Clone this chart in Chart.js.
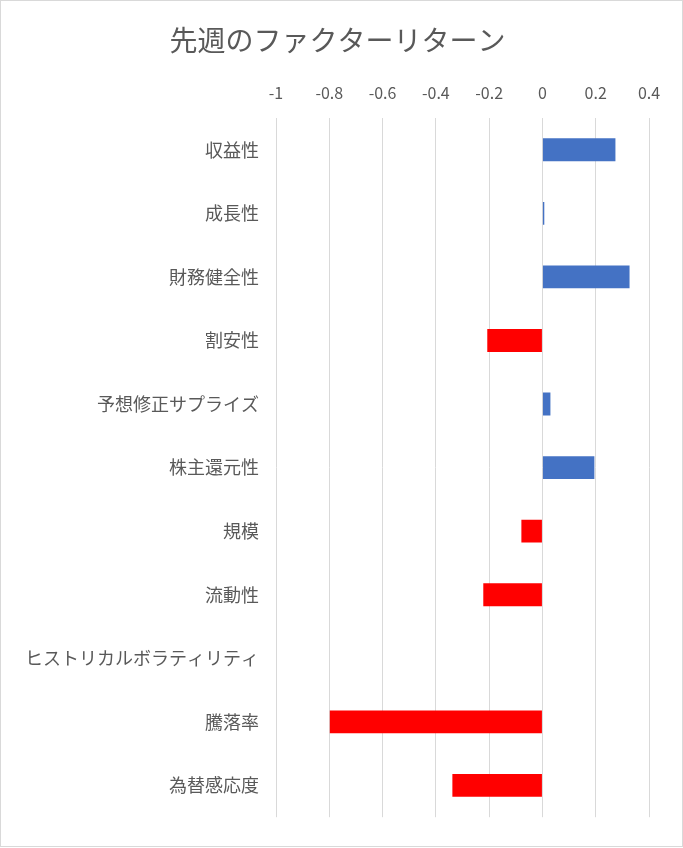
<!DOCTYPE html>
<html>
<head>
<meta charset="utf-8">
<script src="https://cdn.jsdelivr.net/npm/chart.js@4"></script>
<style>
  html, body { margin: 0; padding: 0; background: #fff; overflow: hidden; }
  #frame { position: relative; width: 683px; height: 847px; box-sizing: border-box; border: 1.5px solid #D9D9D9; background: #fff; }
  #c { position: absolute; left: 0; top: 0; }
</style>
</head>
<body>
<div id="frame"><canvas id="c" width="680" height="844" style="width:680px;height:844px"></canvas></div>
<script>
const categories = ['収益性', '成長性', '財務健全性', '割安性', '予想修正サプライズ', '株主還元性', '規模', '流動性', 'ヒストリカルボラティリティ', '騰落率', '為替感応度'];
const returns = [0.274, 0.007, 0.327, -0.207, 0.030, 0.195, -0.079, -0.222, 0, -0.798, -0.338];
const xTicks = [-1, -0.8, -0.6, -0.4, -0.2, 0, 0.2, 0.4];
const titleText = '先週のファクターリターン';

const FONT = "'Noto Sans CJK JP', 'Noto Sans', sans-serif";
const TEXT = '#595959';

new Chart(document.getElementById('c'), {
  type: 'bar',
  data: {
    labels: categories,
    datasets: [{
      data: returns,
      backgroundColor: ctx => (ctx.raw < 0 ? '#FF0000' : '#4472C4'),
      borderWidth: 0,
      categoryPercentage: 1,
      barPercentage: 0.36
    }]
  },
  options: {
    indexAxis: 'y',
    responsive: false,
    maintainAspectRatio: false,
    animation: false,
    layout: { padding: { left: 0, right: 7, top: 0, bottom: 21 } },
    plugins: {
      legend: { display: false },
      tooltip: { enabled: false },
      title: {
        display: true,
        text: titleText,
        color: TEXT,
        font: { family: FONT, size: 28, weight: 'normal' },
        padding: { top: 23, bottom: 0 }
      }
    },
    scales: {
      x: {
        position: 'top',
        min: -1,
        max: 0.4,
        afterBuildTicks: axis => { axis.ticks = xTicks.map(v => ({ value: v })); },
        afterFit: s => { s.height = 60.4; },
        grid: { color: '#D9D9D9', lineWidth: 1, drawTicks: false },
        border: { display: false },
        ticks: {
          color: TEXT,
          font: { family: FONT, size: 16 },
          padding: 15,
          callback: v => String(v)
        }
      },
      y: {
        afterFit: s => { s.width = 275; },
        grid: { display: false, drawTicks: false },
        border: { display: false },
        ticks: {
          color: TEXT,
          font: { family: FONT, size: 18 },
          padding: 17
        }
      },
      yRightSpace: {
        type: 'category',
        axis: 'y',
        position: 'right',
        afterFit: s => { s.width = 25; },
        grid: { display: false, drawTicks: false },
        border: { display: false },
        ticks: { display: false }
      }
    }
  }
});
</script>
</body>
</html>
